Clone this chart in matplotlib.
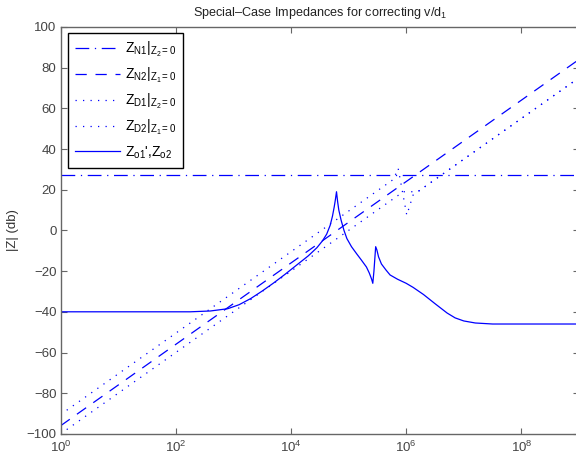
import numpy as np
import matplotlib
matplotlib.use("Agg")
import matplotlib.pyplot as plt

plt.rcParams['font.family'] = ['Liberation Sans', 'DejaVu Sans']
plt.rcParams['mathtext.fontset'] = 'custom'
plt.rcParams['mathtext.rm'] = 'Liberation Sans'
plt.rcParams['mathtext.it'] = 'Liberation Sans:italic'
plt.rcParams['mathtext.bf'] = 'Liberation Sans:bold'
plt.rcParams['mathtext.default'] = 'regular'

# frequency points are kept as log10 exponents
zn1_exp = [0, 9]
zn1_db = [27.2, 27.2]

zn2_exp = [0, 9]
zn2_db = [-96, 84]

zd1_exp = [0, 5.78, 5.86, 6.01, 6.12, 9]
zd1_db = [-90.5, 25.1, 30.5, 7.5, 17.4, 75]

zd2_exp = [0, 5.95, 6.2, 9]
zd2_db = [-100, 19.0, 19.0, 75]

zo_exp = [0, 2.25, 2.6, 2.9, 3.1, 3.3, 3.5, 3.7, 3.9, 4.1, 4.3, 4.45, 4.55,
          4.62, 4.68, 4.72, 4.75, 4.77, 4.79, 4.81, 4.83, 4.87, 4.92, 4.97,
          5.05, 5.14, 5.22, 5.31, 5.36, 5.40, 5.42, 5.44, 5.47, 5.49, 5.52,
          5.57, 5.65, 5.72, 5.85, 6.0, 6.12, 6.3, 6.5, 6.71, 6.85, 7.0, 7.2,
          7.5, 9]
zo_db = [-40, -40, -39.6, -38.5, -36.5, -33.5, -29.8, -25.8, -21.5, -17, -12.5,
         -8.5, -5, -1.8, 2.5, 7, 11.5, 15, 19, 14, 10, 5, 0, -4,
         -8, -11.5, -14.5, -18, -21, -24, -26, -20, -8, -9.5, -13,
         -16.5, -19.5, -21.9, -24, -26, -28, -31.5, -36, -40.6, -43, -44.5, -45.5,
         -46, -46]

labels = [r'$Z_{N1}|_{Z_2=0}$', r'$Z_{N2}|_{Z_1=0}$', r'$Z_{D1}|_{Z_2=0}$',
          r'$Z_{D2}|_{Z_1=0}$', r"$Z_{o1}$',$Z_{o2}$"]

def freqs(e):
    return np.power(10.0, e)

fig = plt.figure(figsize=(5.76, 4.65), dpi=100)
ax = fig.add_axes([60.6/576, 31.1/465, 518.4/576, 407/465])

lw = 0.9
ax.semilogx(freqs(zn1_exp), zn1_db, color='b', lw=lw, linestyle=(0, (11, 4.5, 1, 4.5)), label=labels[0])
ax.semilogx(freqs(zn2_exp), zn2_db, color='b', lw=lw, linestyle=(0, (9, 7)), label=labels[1])
ax.semilogx(freqs(zd1_exp), zd1_db, color='b', lw=lw, linestyle=(0, (1, 5)), label=labels[2])
ax.semilogx(freqs(zd2_exp), zd2_db, color='b', lw=lw, linestyle=(0, (1, 5)), label=labels[3])
ax.semilogx(freqs(zo_exp), zo_db, color='b', lw=lw, label=labels[4])

ax.set_xlim(1, 1e9)
ax.set_ylim(-100, 100)
ax.set_xticks([1e0, 1e2, 1e4, 1e6, 1e8])
ax.xaxis.set_minor_locator(matplotlib.ticker.NullLocator())
ax.set_yticks(np.arange(-100, 101, 20))

for s in ax.spines.values():
    s.set_color('#666666')
    s.set_linewidth(1.0)
ax.tick_params(direction='in', length=4, width=0.8, color='#666666',
               labelcolor='#444444', labelsize=9.5, top=True, right=True)
ax.tick_params(axis='x', pad=4)
ax.tick_params(axis='y', pad=3)

ax.set_ylabel('|Z| (db)', fontsize=9.5, color='#333333')
ax.yaxis.set_label_coords((19 - 60.6)/518.4, 0.5)
ax.set_title('Special–Case Impedances for correcting v/d$_1$', fontsize=9.1,
             color='#222222', pad=8)

leg = ax.legend(loc='upper left', bbox_to_anchor=(0.0149, 0.9843), borderaxespad=0,
                fontsize=10, handlelength=3.2, handletextpad=0.4, borderpad=0.5,
                labelspacing=0.5, fancybox=False, framealpha=1)
leg.get_frame().set_edgecolor('black')
leg.get_frame().set_linewidth(1.0)

plt.savefig('out.png', dpi=100)
